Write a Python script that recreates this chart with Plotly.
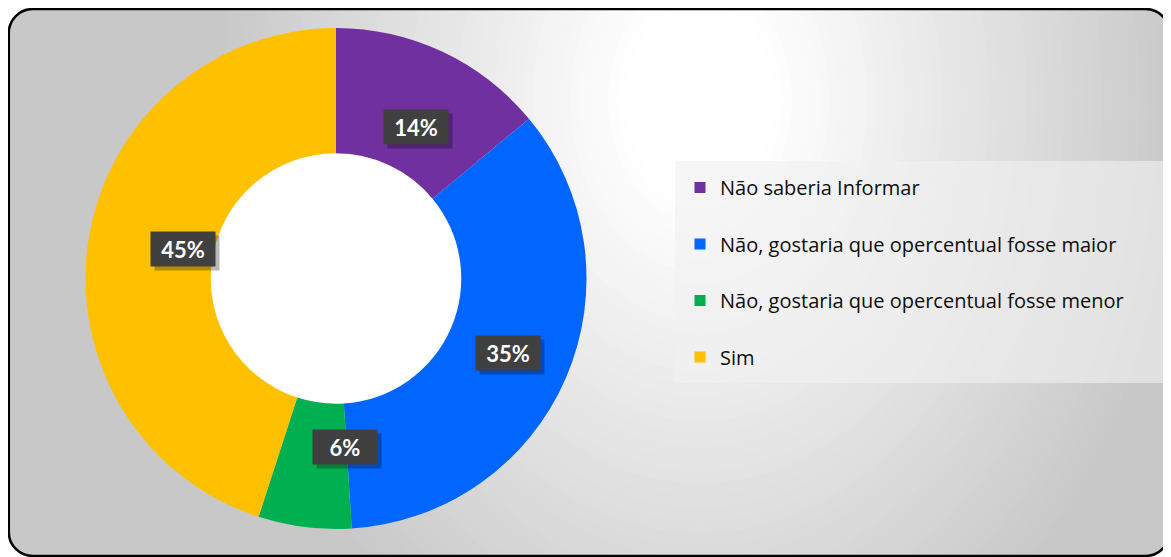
import math
import plotly.graph_objects as go

# ---------------- data ----------------
labels = [
    "Não saberia Informar",
    "Não, gostaria que opercentual fosse maior",
    "Não, gostaria que opercentual fosse menor",
    "Sim",
]
values = [14, 35, 6, 45]
colors = ["#7030A0", "#0066FF", "#00B050", "#FFC000"]

# ---------------- geometry (screen pixels) ----------------
W, H = 1171, 557
OFF = 8                    # page body margin
CX, CY = 336.0, 278.5      # donut centre
R = 250.5                  # outer radius
HOLE = 0.5


def px(x):
    return (x - OFF) / W


def py(y):
    return 1 - (y - OFF) / H


def rounded_rect(x0, y0, x1, y1, r):
    k = 0.5523 * r
    pts = [
        f"M{px(x0 + r)},{py(y0)}",
        f"L{px(x1 - r)},{py(y0)}",
        f"C{px(x1 - r + k)},{py(y0)} {px(x1)},{py(y0 + r - k)} {px(x1)},{py(y0 + r)}",
        f"L{px(x1)},{py(y1 - r)}",
        f"C{px(x1)},{py(y1 - r + k)} {px(x1 - r + k)},{py(y1)} {px(x1 - r)},{py(y1)}",
        f"L{px(x0 + r)},{py(y1)}",
        f"C{px(x0 + r - k)},{py(y1)} {px(x0)},{py(y1 - r + k)} {px(x0)},{py(y1 - r)}",
        f"L{px(x0)},{py(y0 + r)}",
        f"C{px(x0)},{py(y0 + r - k)} {px(x0 + r - k)},{py(y0)} {px(x0 + r)},{py(y0)}",
        "Z",
    ]
    return " ".join(pts)


frame = rounded_rect(8.8, 9, 1169.5, 556, 24)

shapes = []
shapes.append(dict(type="path", path=frame, xref="paper", yref="paper",
                   fillcolor="rgb(200,200,200)", line=dict(width=0), layer="below"))

# radial (elliptical) gradient built from stacked ellipses
GCX, GCY, AX, AY = 700.0, 100.0, 490.0, 650.0


def gray(t):
    u = min(max((t - 0.15) / 0.85, 0.0), 1.0)
    return int(round(255 - 55 * u))


n = 48
for i in range(n):
    t = 1.05 - i * (0.92 / n)
    g = gray(t)
    shapes.append(dict(type="circle", xref="paper", yref="paper",
                       x0=px(GCX - AX * t), x1=px(GCX + AX * t),
                       y0=py(GCY + AY * t), y1=py(GCY - AY * t),
                       fillcolor=f"rgb({g},{g},{g})", line=dict(width=0), layer="below"))

# white mask outside the rounded frame
outer = (f"M{px(-40)},{py(-40)} L{px(W + 40)},{py(-40)} "
         f"L{px(W + 40)},{py(H + 40)} L{px(-40)},{py(H + 40)} Z ")
shapes.append(dict(type="path", path=outer + frame, xref="paper", yref="paper",
                   fillcolor="white", fillrule="evenodd", line=dict(width=0), layer="below"))

# white disc inside the donut hole
rh = R * HOLE
shapes.append(dict(type="circle", xref="paper", yref="paper",
                   x0=px(CX - rh - 1), x1=px(CX + rh + 1),
                   y0=py(CY + rh + 1), y1=py(CY - rh - 1),
                   fillcolor="white", line=dict(width=0), layer="below"))

# legend background box
shapes.append(dict(type="rect", xref="paper", yref="paper",
                   x0=px(675), x1=px(1165), y0=py(383), y1=py(161),
                   fillcolor="rgba(241,241,241,0.62)", line=dict(width=0), layer="below"))

# frame outline
shapes.append(dict(type="path", path=frame, xref="paper", yref="paper",
                   line=dict(color="black", width=2.5), layer="above"))

fig = go.Figure()

fig.add_trace(go.Pie(
    labels=labels, values=values, hole=HOLE, sort=False, direction="clockwise",
    rotation=0, marker=dict(colors=colors, line=dict(width=0)),
    textinfo="none", showlegend=False,
    domain=dict(x=[px(CX - R), px(CX + R)], y=[py(CY + R), py(CY - R)]),
))

for i, (lab, col) in enumerate(zip(labels, colors)):
    fig.add_trace(go.Scatter(
        x=[None], y=[None], mode="markers", name=lab, legendgroup=f"g{i}",
        marker=dict(symbol="square", size=11, color=col), showlegend=True,
    ))

annotations = []
total = sum(values)
rmid = R * (1 + HOLE) / 2
cum = 0.0
for v in values:
    mid = (cum + v / 2) / total
    cum += v
    th = 2 * math.pi * mid
    x = CX + rmid * math.sin(th)
    y = CY - rmid * math.cos(th)
    txt = f"{v / total:.0%}"
    # drop shadow box (no text)
    annotations.append(dict(
        x=px(x), y=py(y), xref="paper", yref="paper", text="&nbsp;", showarrow=False,
        xshift=4, yshift=-4, width=56, height=26, borderpad=4,
        bgcolor="rgba(0,0,0,0.28)",
        font=dict(family="Lato", size=22, color="rgba(0,0,0,0)", weight="bold"),
    ))
    annotations.append(dict(
        x=px(x), y=py(y), xref="paper", yref="paper", text=txt, showarrow=False,
        width=56, height=26, borderpad=4,
        bgcolor="#404040", font=dict(family="Lato", size=22, color="white", weight="bold"),
    ))

fig.update_layout(
    width=W, height=H,
    margin=dict(l=0, r=0, t=0, b=0),
    paper_bgcolor="white", plot_bgcolor="rgba(0,0,0,0)",
    xaxis=dict(visible=False), yaxis=dict(visible=False),
    shapes=shapes, annotations=annotations,
    showlegend=True,
    legend=dict(x=px(680), y=py(168), xanchor="left", yanchor="top",
                bgcolor="rgba(0,0,0,0)",
                font=dict(family="Open Sans", size=20, color="#0d0d0d"),
                tracegroupgap=27.5),
)

fig.write_html("out.html")
